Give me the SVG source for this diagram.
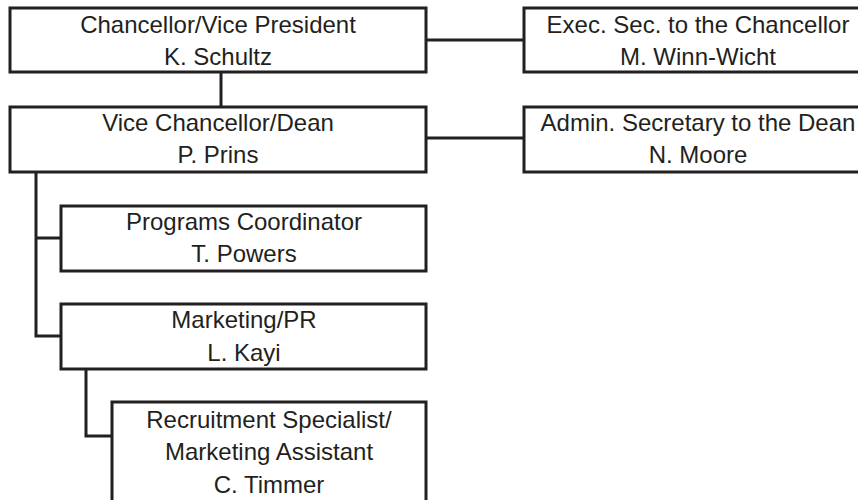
<svg xmlns="http://www.w3.org/2000/svg" width="858" height="500" viewBox="0 0 858 500">
<style>
.box{fill:#fff;stroke:#231f20;stroke-width:3}
.conn{fill:none;stroke:#231f20;stroke-width:3}
text{font-family:"Liberation Sans",Arial,sans-serif;font-size:24px;fill:#231f20;text-anchor:middle}
</style>
<rect width="858" height="500" fill="#fff"/>
<g id="connectors">
<line class="conn" x1="426" y1="40" x2="524" y2="40"/>
<line class="conn" x1="426" y1="138" x2="524" y2="138"/>
<line class="conn" x1="221" y1="72" x2="221" y2="107"/>
<polyline class="conn" points="36,172 36,336 61,336"/>
<line class="conn" x1="36" y1="238" x2="61" y2="238"/>
<polyline class="conn" points="86,369 86,436 112,436"/>
</g>
<g id="chancellor">
<rect class="box" x="10" y="8" width="416" height="64"/>
<text x="218" y="33">Chancellor/Vice President</text>
<text x="218" y="65">K. Schultz</text>
</g>
<g id="exec-sec">
<rect class="box" x="524" y="8" width="348" height="64"/>
<text x="698" y="33">Exec. Sec. to the Chancellor</text>
<text x="698" y="65">M. Winn-Wicht</text>
</g>
<g id="vice-chancellor">
<rect class="box" x="10" y="107" width="416" height="65"/>
<text x="218" y="131">Vice Chancellor/Dean</text>
<text x="218" y="163">P. Prins</text>
</g>
<g id="admin-sec">
<rect class="box" x="524" y="107" width="348" height="65"/>
<text x="698" y="131">Admin. Secretary to the Dean</text>
<text x="698" y="163">N. Moore</text>
</g>
<g id="programs">
<rect class="box" x="61" y="206" width="365" height="65"/>
<text x="244" y="230">Programs Coordinator</text>
<text x="244" y="262">T. Powers</text>
</g>
<g id="marketing">
<rect class="box" x="61" y="304" width="365" height="65"/>
<text x="244" y="328">Marketing/PR</text>
<text x="244" y="361">L. Kayi</text>
</g>
<g id="recruitment">
<rect class="box" x="112" y="402" width="314" height="110"/>
<text x="269" y="428">Recruitment Specialist/</text>
<text x="269" y="460">Marketing Assistant</text>
<text x="269" y="493">C. Timmer</text>
</g>
</svg>
